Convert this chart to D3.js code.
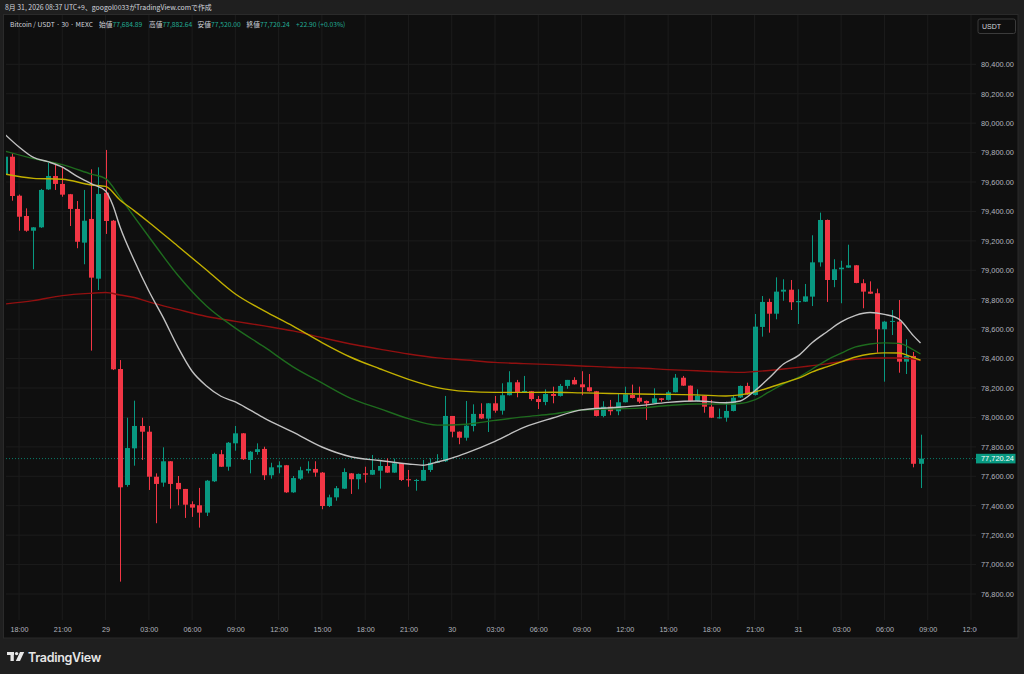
<!DOCTYPE html>
<html><head><meta charset="utf-8">
<script src="https://cdn.jsdelivr.net/npm/d3@7"></script>
<style>html,body{margin:0;padding:0;background:#1f1f1f;}svg{display:block}</style>
</head><body>
<svg id="c" width="1024" height="674"></svg>
<script>
// ---------- DATA ----------
const startTime = "2026-08-28T17:00"; // first 30-min candle (UTC+9)
const intervalMin = 30;
const openP = [79648,79772,79507,79369,79269,79292,79550,79641,79587,79517,79417,79188,79349,78943,79527,79337,78329,77541,77790,77942,77903,77597,77557,77702,77555,77514,77410,77403,77353,77566,77750,77665,77824,77892,77711,77765,77786,77607,77661,77675,77491,77584,77638,77650,77625,77398,77457,77516,77620,77580,77620,77611,77638,77670,77625,77688,77580,77570,77570,77643,77692,77702,78010,77903,77862,77942,78024,77992,78096,78046,78151,78239,78171,78178,78125,78105,78159,78146,78214,78255,78225,78205,78178,78010,78073,78042,78103,78153,78134,78112,78096,78130,78119,78171,78270,78216,78112,78148,78073,77994,77998,78044,78136,78214,78153,78615,78785,78705,78855,78868,78783,78787,78821,79054,79342,78934,79007,79018,79034,78912,78855,78844,78599,78649,78651,78379,78418,77684.89];
const highP = [79784,79795,79515,79421,79294,79553,79731,79727,79700,79519,79471,79546,79686,79700,79818,79342,78390,77998,78114,77998,77942,77620,77797,77704,77602,77514,77430,77521,77575,77760,77779,77833,77942,77894,77772,77824,77801,77692,77702,77677,77602,77665,77702,77702,77629,77475,77534,77654,77622,77619,77665,77745,77711,77722,77720,77690,77643,77582,77711,77722,77750,78146,78010,77905,78112,78089,78096,78098,78146,78232,78314,78255,78282,78180,78146,78191,78209,78227,78255,78273,78314,78295,78180,78110,78119,78164,78209,78223,78209,78115,78198,78132,78182,78295,78282,78217,78191,78149,78119,78060,78107,78153,78217,78236,78703,78825,78807,78952,78939,78934,78871,78907,79238,79392,79345,79075,79065,79174,79036,78939,78925,78875,78656,78730,78798,78531,78445,77882.64];
const lowP = [79641,79473,79269,79262,79007,79288,79546,79546,79500,79301,79150,79041,78454,78866,79247,78322,76884,77529,77672,77711,77507,77281,77529,77380,77403,77317,77324,77251,77330,77561,77663,77638,77774,77711,77620,77747,77575,77584,77620,77487,77487,77575,77620,77597,77376,77391,77434,77514,77480,77512,77557,77609,77516,77623,77623,77568,77529,77502,77568,77629,77690,77697,77865,77818,77842,77905,77989,77901,78032,78019,78149,78137,78170,78114,78057,78083,78096,78142,78195,78224,78151,78176,78007,78001,78015,78015,78102,78129,78096,77983,78095,78107,78115,78170,78214,78108,78108,78032,77996,77993,77971,78041,78132,78153,78149,78549,78576,78667,78793,78730,78635,78785,78757,79025,78785,78885,78776,79016,78912,78742,78839,78440,78243,78560,78304,78295,77661,77520.00];
const closeP = [79772,79505,79364,79269,79292,79546,79641,79587,79514,79417,79194,79337,78950,79519,79335,78327,77525,77792,77942,77903,77597,77548,77702,77548,77512,77407,77387,77353,77570,77752,77665,77828,77892,77716,77767,77784,77607,77661,77675,77491,77588,77641,77650,77625,77398,77457,77519,77629,77580,77616,77611,77643,77670,77625,77688,77575,77573,77575,77643,77692,77702,78010,77903,77862,77944,78024,77993,78096,78046,78151,78239,78173,78180,78125,78105,78159,78146,78214,78255,78225,78205,78178,78010,78073,78042,78103,78157,78132,78107,78096,78130,78119,78171,78270,78216,78112,78148,78073,77998,78001,78044,78134,78214,78156,78617,78785,78705,78855,78868,78783,78791,78823,79054,79342,78934,79007,79018,79034,78914,78855,78841,78599,78651,78656,78379,78418,77685,77720.24];

// moving-average lines at candle positions
const fastIdx = [0,2,4,6,8,10,12,14,15,16,18,20,22,24,26,28,30,32,34,36,40,44,48,52,56,58,60,62,64,68,72,76,80,84,88,92,96,100,102,104,106,108,110,112,114,116,118,120,122,124,126,127];
const maWhite = [79926,79838,79767,79738,79701,79640,79589,79539,79444,79296,79065,78859,78678,78481,78314,78214,78144,78105,78051,77996,77900,77799,77733,77707,77684,77675,77697,77724,77758,77838,77932,77996,78051,78066,78080,78102,78112,78100,78112,78180,78268,78363,78418,78509,78581,78649,78694,78713,78700,78668,78556,78506];
const maIdx = [0,4,8,12,14,16,18,20,24,28,32,36,40,44,48,52,56,60,64,68,72,76,80,84,88,92,96,100,102,104,106,108,110,112,114,116,118,120,122,124,126,127];
const maGreen = [79811,79759,79718,79654,79623,79497,79361,79228,78968,78757,78607,78479,78344,78235,78130,78060,77992,77948,77954,77980,78004,78023,78051,78057,78063,78081,78091,78091,78095,78119,78173,78228,78271,78329,78390,78437,78479,78499,78507,78503,78460,78431];
const maYellow = [79654,79625,79619,79580,79570,79478,79404,79327,79165,79002,78839,78724,78621,78509,78409,78331,78259,78203,78177,78170,78170,78171,78167,78163,78159,78157,78153,78146,78153,78173,78202,78234,78265,78309,78344,78378,78411,78431,78439,78438,78407,78390];
const maRed = [78771,78794,78828,78844,78849,78832,78815,78785,78734,78686,78653,78622,78588,78542,78499,78464,78431,78405,78390,78374,78366,78359,78350,78341,78336,78325,78317,78309,78306,78312,78319,78329,78340,78352,78364,78380,78395,78402,78404,78404,78397,78387];

const priceTicks = [76800,77000,77200,77400,77600,77800,78000,78200,78400,78600,78800,79000,79200,79400,79600,79800,80000,80200,80400];
const timeLabels = ["18:00","21:00","29","03:00","06:00","09:00","12:00","15:00","18:00","21:00","30","03:00","06:00","09:00","12:00","15:00","18:00","21:00","31","03:00","06:00","09:00","12:00"];
const lastPrice = 77720.24;

// ---------- CHART ----------
const svg = d3.select("#c");
const upC = "#089981", dnC = "#f23645";
const t0 = d3.utcParse("%Y-%m-%dT%H:%M")(startTime);
const tAt = i => d3.utcMinute.offset(t0, i * intervalMin);
const times = openP.map((_, i) => tAt(i));

const plotL = 6, plotR = 976, plotT = 15, plotB = 620;
const x = d3.scaleUtc().domain([t0, tAt(134)]).range([4.6, 971.0]);
const y = d3.scaleLinear().domain([76800, 80400]).range([594.0, 64.3]);

// panel
svg.append("rect").attr("x", 3.5).attr("y", 14.5).attr("width", 1014.5).attr("height", 623.5)
  .attr("fill", "#0f0f0f").attr("stroke", "#2a2a2a");

// header
svg.append("text").attr("x", 5).attr("y", 10).attr("fill", "#d1d4dc")
  .attr("font-family", "'Noto Sans CJK JP', sans-serif").attr("font-size", 6.9)
  .text("8月 31, 2026 08:37 UTC+9、googol0033がTradingView.comで作成");

const defs = svg.append("defs");
defs.append("clipPath").attr("id", "plot").append("rect")
  .attr("x", plotL).attr("y", plotT).attr("width", plotR - plotL).attr("height", plotB - plotT);
defs.append("clipPath").attr("id", "taxis2").append("rect")
  .attr("x", plotL).attr("y", -10).attr("width", plotR - plotL + 1).attr("height", 20);

// grid
const timeTicks = d3.utcHour.every(3).range(tAt(2), d3.utcMinute.offset(tAt(134), 1));
const grid = svg.append("g").attr("clip-path", "url(#plot)");
grid.selectAll(".hg").data(priceTicks).join("line")
  .attr("x1", plotL).attr("x2", plotR).attr("y1", d => y(d)).attr("y2", d => y(d))
  .attr("stroke", "#1c1c1c").attr("stroke-width", 1);
grid.selectAll(".vg").data(timeTicks).join("line")
  .attr("x1", d => x(d)).attr("x2", d => x(d)).attr("y1", plotT).attr("y2", plotB)
  .attr("stroke", "#1c1c1c").attr("stroke-width", 1);

// last price dotted line
svg.append("line").attr("x1", plotL).attr("x2", plotR).attr("y1", y(lastPrice)).attr("y2", y(lastPrice))
  .attr("stroke", upC).attr("stroke-width", 0.8).attr("stroke-dasharray", "1,2");

// candles
const plot = svg.append("g").attr("clip-path", "url(#plot)");
const cd = openP.map((o, i) => ({t: times[i], o, h: highP[i], l: lowP[i], c: closeP[i]}));
const bw = 5;
plot.selectAll(".wick").data(cd).join("line")
  .attr("x1", d => Math.round(x(d.t)) + 0.5).attr("x2", d => Math.round(x(d.t)) + 0.5)
  .attr("y1", d => y(d.h)).attr("y2", d => y(d.l))
  .attr("stroke", d => d.c >= d.o ? upC : dnC).attr("stroke-width", 1);
plot.selectAll(".body").data(cd).join("rect")
  .attr("x", d => Math.round(x(d.t)) + 0.5 - bw / 2).attr("width", bw)
  .attr("y", d => y(Math.max(d.o, d.c)))
  .attr("height", d => Math.max(1, y(Math.min(d.o, d.c)) - y(Math.max(d.o, d.c))))
  .attr("fill", d => d.c >= d.o ? upC : dnC);

// MA lines
const mkLine = (idx, vals, color) => {
  const pts = idx.map((k, j) => [tAt(k), vals[j]]);
  plot.append("path").datum(pts)
    .attr("d", d3.line().x(d => x(d[0])).y(d => y(d[1])).curve(d3.curveMonotoneX))
    .attr("fill", "none").attr("stroke", color).attr("stroke-width", 1.4);
};
mkLine(maIdx, maRed, "#921010");
mkLine(maIdx, maGreen, "#1e6b1e");
mkLine(maIdx, maYellow, "#c2b000");
mkLine(fastIdx, maWhite, "#c2c2c2");

// price axis
const yAxis = d3.axisRight(y).tickValues(priceTicks).tickSize(0).tickPadding(0)
  .tickFormat(d => d3.format(",.2f")(d));
const ya = svg.append("g").attr("transform", "translate(981,0)").call(yAxis);
ya.select(".domain").remove();
ya.selectAll("text").attr("fill", "#b2b5be").attr("font-size", 7.4)
  .attr("font-family", "'Liberation Sans', sans-serif");

// time axis
const xAxis = d3.axisBottom(x).tickValues(timeTicks).tickSize(0).tickPadding(0)
  .tickFormat((d, i) => timeLabels[i]);
const xa = svg.append("g").attr("transform", "translate(0,627)").call(xAxis);
xa.select(".domain").remove();
xa.selectAll("text").attr("fill", "#b2b5be").attr("font-size", 7.2)
  .attr("font-family", "'Liberation Sans', sans-serif");
xa.attr("clip-path", "url(#taxis2)");

// USDT box
svg.append("rect").attr("x", 978).attr("y", 19).attr("width", 37.5).attr("height", 14.5).attr("rx", 2)
  .attr("fill", "none").attr("stroke", "#3b3b3b");
svg.append("text").attr("x", 982).attr("y", 28.5).attr("fill", "#d1d4dc").attr("font-size", 7)
  .attr("font-family", "'Liberation Sans', sans-serif").text("USDT");

// last price tag
svg.append("rect").attr("x", 976).attr("y", y(lastPrice) - 4.8).attr("width", 39.5).attr("height", 9.6)
  .attr("fill", upC);
svg.append("text").attr("x", 981).attr("y", y(lastPrice) + 2.6).attr("fill", "#ffffff").attr("font-size", 7.4)
  .attr("font-family", "'Liberation Sans', sans-serif").text(d3.format(",.2f")(lastPrice));

// legend
const lg = svg.append("text").attr("y", 27).attr("font-family", "'Noto Sans CJK JP', sans-serif").attr("font-size", 6.7);
const teal = "#22ab94", lab = "#d1d4dc";
const parts = [
  [10, "Bitcoin / USDT · 30 · MEXC", lab],
  [99, "始値", lab], [112.5, d3.format(",.2f")(openP[openP.length-1]), teal],
  [149, "高値", lab], [162.5, d3.format(",.2f")(highP[highP.length-1]), teal],
  [197.5, "安値", lab], [211, d3.format(",.2f")(lowP[lowP.length-1]), teal],
  [246.5, "終値", lab], [260, d3.format(",.2f")(closeP[closeP.length-1]), teal],
  [296, "+22.90 (+0.03%)", teal]
];
parts.forEach(p => lg.append("tspan").attr("x", p[0]).attr("fill", p[2]).text(p[1]));

// TradingView logo
const logo = svg.append("g").attr("fill", "#e6e6e6");
logo.append("rect").attr("x", 7).attr("y", 652).attr("width", 7).attr("height", 3);
logo.append("rect").attr("x", 10.5).attr("y", 652).attr("width", 3.3).attr("height", 9);
logo.append("circle").attr("cx", 16.6).attr("cy", 653.6).attr("r", 1.7);
logo.append("polygon").attr("points", "20,652 24.2,652 20,661 15.8,661");
svg.append("text").attr("x", 28).attr("y", 661.5).attr("fill", "#e6e6e6")
  .attr("font-family", "Inter, sans-serif").attr("font-weight", 600).attr("font-size", 12.5)
  .attr("letter-spacing", -0.3).text("TradingView");
</script>
</body></html>
